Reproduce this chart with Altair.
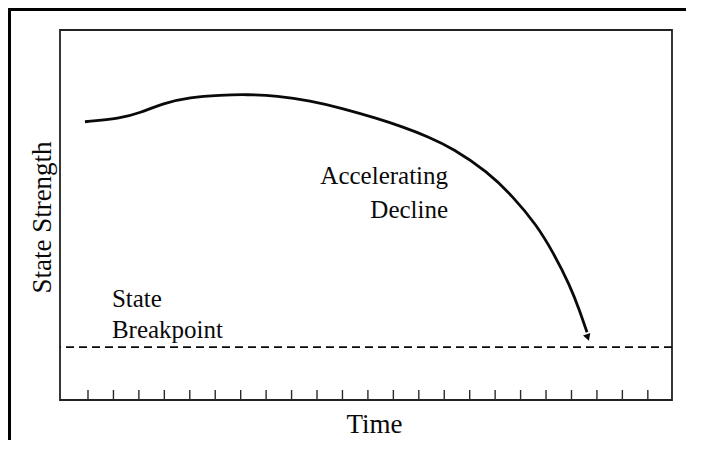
import altair as alt
import pandas as pd

# Curve: time vs state strength
curve_t = [0.88, 2.26, 3.04, 3.95, 5.01, 6.19, 7.25, 8.43, 9.72, 11.02, 12.36,
           13.38, 14.36, 15.34, 16.68, 17.70, 18.64, 19.27, 19.94, 20.33, 20.61]
curve_v = [75.2, 76.1, 77.6, 80.2, 81.8, 82.4, 82.6, 82.2, 80.9, 78.8, 76.1,
           73.8, 71.2, 68.0, 61.8, 55.0, 47.2, 40.0, 31.0, 24.0, 18.3]

arrow_t = [20.64]
arrow_v = [16.9]

breakpoint_v = [14.3]

tick_t = list(range(1, 24))

ann_text = ["Accelerating", "Decline", "State", "Breakpoint"]
ann_t = [15.15, 15.15, 1.94, 1.94]
ann_v = [58.4, 49.2, 25.1, 16.8]
ann_align = ["right", "right", "left", "left"]

FONT = "Liberation Serif"
INK = "#0a0a0a"

xs = alt.Scale(domain=[-0.1, 23.95], nice=False, zero=False)
ys = alt.Scale(domain=[0, 100], nice=False, zero=False)

x_axis = alt.Axis(title="Time", labels=False, ticks=False, domain=False, grid=False,
                  titleFont=FONT, titleFontSize=27, titleFontWeight="normal",
                  titleColor=INK, titleBaseline="alphabetic", titleX=314, titleY=32,
                  titleAlign="center")
y_axis = alt.Axis(title="State Strength", labels=False, ticks=False, domain=False, grid=False,
                  titleFont=FONT, titleFontSize=27, titleFontWeight="normal",
                  titleColor=INK, titleBaseline="alphabetic", titleX=-10, titleY=187,
                  titleAlign="center", titleAngle=270)

X = alt.X("t:Q", scale=xs, axis=x_axis)
Y = alt.Y("v:Q", scale=ys, axis=y_axis)

curve_df = pd.DataFrame({"t": curve_t, "v": curve_v})
arrow_df = pd.DataFrame({"t": arrow_t, "v": arrow_v})
bp_df = pd.DataFrame({"v": breakpoint_v})
tick_df = pd.DataFrame({"t": tick_t})
ann_df = pd.DataFrame({"t": ann_t, "v": ann_v, "label": ann_text, "align": ann_align})

line = alt.Chart(curve_df).mark_line(
    color=INK, strokeWidth=2.8, interpolate="basis"
).encode(x=X, y=Y)

arrow = alt.Chart(arrow_df).mark_point(
    shape="triangle-down", filled=True, color=INK, size=60, angle=341, opacity=1
).encode(x=X, y=Y)

dashed = alt.Chart(bp_df).mark_rule(
    color=INK, strokeWidth=1.8, strokeDash=[8, 5]
).encode(y=Y)

ticks = alt.Chart(tick_df).mark_rule(
    color="#2a2a2a", strokeWidth=1.4
).encode(x=X, y=alt.value(370), y2=alt.value(360))

ann_right = alt.Chart(ann_df[ann_df["align"] == "right"]).mark_text(
    font=FONT, fontSize=25, color=INK, align="right", baseline="alphabetic"
).encode(x=X, y=Y, text="label:N")

ann_left = alt.Chart(ann_df[ann_df["align"] == "left"]).mark_text(
    font=FONT, fontSize=25, color=INK, align="left", baseline="alphabetic"
).encode(x=X, y=Y, text="label:N")

# outer picture frame (top and left edges)
frame_top = alt.Chart(pd.DataFrame({"a": [0]})).mark_rule(
    color="#000000", strokeWidth=3
).encode(x=alt.value(-53), x2=alt.value(640), y=alt.value(-20.5))
frame_left = alt.Chart(pd.DataFrame({"a": [0]})).mark_rule(
    color="#000000", strokeWidth=3
).encode(x=alt.value(-50.5), y=alt.value(-22), y2=alt.value(420))

chart = alt.layer(
    dashed, ticks, line, arrow, ann_right, ann_left, frame_top, frame_left
).properties(
    width=612, height=370,
    autosize=alt.AutoSizeParams(type="none"),
    padding={"left": 52, "top": 22, "right": 14, "bottom": 40},
    background="white",
).configure_view(
    stroke="#222222", strokeWidth=1.8
)

chart.save("out.html", embed_options={"renderer": "svg", "actions": False})
